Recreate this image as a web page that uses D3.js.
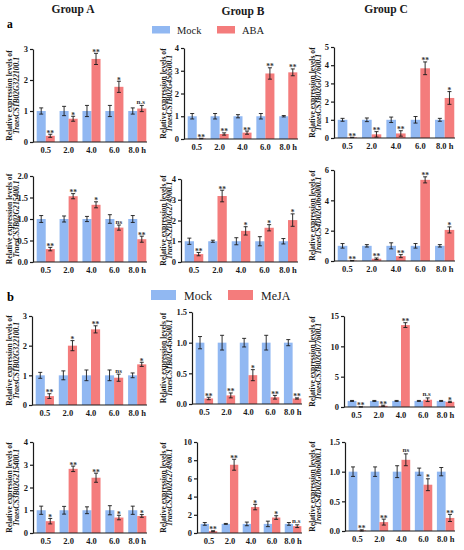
<!DOCTYPE html>
<html><head><meta charset="utf-8">
<script src="https://cdn.jsdelivr.net/npm/d3@7/dist/d3.min.js"></script>
<style>body{margin:0;background:#fff}svg{display:block;font-family:"Liberation Serif","Times New Roman",serif}</style>
</head><body>
<svg id="c" width="464" height="550"></svg>
<script>
// ---------------- data ----------------
const categories = ["0.5", "2.0", "4.0", "6.0", "8.0 h"];
const groupTitles = ["Group A", "Group B", "Group C"];
const treatments = ["ABA", "MeJA"];
const genes = [
  "TraesCS1B02G322100.1", "TraesCS1B02G456500.1", "TraesCS3B02G077600.1",
  "TraesCS3B02G215400.1", "TraesCS2D02G274900.1", "TraesCS4D02G066000.1",
  "TraesCS1B02G322100.1", "TraesCS1B02G456500.1", "TraesCS3B02G077600.1",
  "TraesCS3B02G215400.1", "TraesCS2D02G274900.1", "TraesCS4D02G066000.1"
];
const yMax = [3, 4, 5, 2, 4, 6, 3, 1.5, 15, 4, 10, 1.5];
const yTicks = [
  [0, 1, 2, 3], [0, 1, 2, 3, 4], [0, 1, 2, 3, 4, 5],
  [0, 0.5, 1, 1.5, 2], [0, 1, 2, 3, 4], [0, 2, 4, 6],
  [0, 1, 2, 3], [0, 0.5, 1, 1.5], [0, 5, 10, 15],
  [0, 1, 2, 3, 4], [0, 2, 4, 6, 8, 10], [0, 0.5, 1, 1.5]
];
const mockMeans = [
  [1, 1, 1, 1, 1], [1, 1, 1, 1, 1], [1, 1, 1, 1, 1],
  [1, 1, 1, 1, 1], [1, 1, 1, 1, 1], [1, 1, 1, 1, 1],
  [1, 1, 1, 1, 1], [1, 1, 1, 1, 1], [1, 1, 1, 1, 1],
  [1, 1, 1, 1, 1], [1, 1, 1, 1, 1], [1, 1, 1, 1, 1]
];
const mockErrors = [
  [0.1, 0.15, 0.18, 0.18, 0.1], [0.12, 0.12, 0.07, 0.12, 0.03], [0.08, 0.1, 0.15, 0.18, 0.08],
  [0.08, 0.07, 0.06, 0.1, 0.08], [0.15, 0.05, 0.17, 0.22, 0.13], [0.15, 0.08, 0.2, 0.15, 0.08],
  [0.1, 0.15, 0.18, 0.18, 0.08], [0.1, 0.12, 0.07, 0.12, 0.05], [0.08, 0.08, 0.08, 0.08, 0.08],
  [0.18, 0.17, 0.15, 0.2, 0.18], [0.15, 0.05, 0.2, 0.3, 0.15], [0.08, 0.08, 0.1, 0.06, 0.07]
];
const treatMeans = [
  [0.2, 0.75, 2.68, 1.78, 1.08], [0.02, 0.22, 0.28, 2.88, 2.93], [0.03, 0.2, 0.25, 3.83, 2.2],
  [0.3, 1.53, 1.33, 0.8, 0.53], [0.38, 3.18, 1.5, 1.65, 2.02], [0.02, 0.15, 0.32, 5.35, 2.05],
  [0.3, 2.0, 2.55, 0.92, 1.37], [0.09, 0.14, 0.47, 0.11, 0.09], [0.02, 0.2, 13.5, 1.2, 0.85],
  [0.52, 2.82, 2.43, 0.68, 0.75], [0.2, 7.5, 2.85, 1.7, 0.75], [0.01, 0.15, 1.2, 0.78, 0.22]
];
const treatErrors = [
  [0.05, 0.08, 0.18, 0.18, 0.1], [0.01, 0.05, 0.07, 0.25, 0.15], [0.01, 0.15, 0.15, 0.35, 0.35],
  [0.04, 0.06, 0.07, 0.06, 0.07], [0.08, 0.28, 0.2, 0.15, 0.3], [0.01, 0.05, 0.1, 0.2, 0.2],
  [0.08, 0.17, 0.12, 0.12, 0.07], [0.02, 0.04, 0.09, 0.03, 0.01], [0.01, 0.1, 0.4, 0.3, 0.1],
  [0.12, 0.12, 0.2, 0.1, 0.06], [0.05, 0.6, 0.3, 0.2, 0.15], [0.01, 0.05, 0.1, 0.1, 0.06]
];
const significance = [
  ["**", "*", "**", "*", "n.s"], ["**", "**", "**", "**", "**"], ["**", "**", "**", "**", "*"],
  ["**", "**", "*", "ns", "**"], ["**", "**", "*", "*", "*"], ["**", "**", "**", "**", "*"],
  ["**", "*", "**", "ns", "*"], ["**", "**", "*", "**", "**"], ["**", "**", "**", "n.s", "*"],
  ["*", "**", "**", "*", "*"], ["**", "**", "*", "*", "n.s"], ["**", "**", "ns", "*", "**"]
];

// ---------------- layout ----------------
const BLUE = "#91b8f2", RED = "#f47c7c", INK = "#1a1a1a";
const FONT = '"Liberation Serif","Times New Roman",serif';
// [axisX, rightX, topY, bottomY]
const BOX = [
  [33, 147, 49, 142], [184, 298, 48, 139], [334, 455, 47, 138],
  [33, 147, 176, 262], [181, 298, 179, 262], [334, 455, 170, 261],
  [32, 147, 316, 405], [192, 302, 312, 404], [344, 455, 316, 407],
  [33, 147, 442, 533], [197, 302, 442, 533], [345, 455, 442, 531]
];
const LABEL_X = [[12, 19], [166, 172], [315, 321]];

const svg = d3.select("#c");

// headers
const headerX = [73, 243, 386], headerY = [13, 15, 13];
groupTitles.forEach((t, i) => {
  svg.append("text").attr("x", headerX[i]).attr("y", headerY[i]).attr("text-anchor", "middle")
    .attr("font-weight", "bold").attr("font-size", 11.5).attr("fill", INK).text(t);
});
svg.append("text").attr("x", 7).attr("y", 28).attr("font-weight", "bold").attr("font-size", 11.5).text("a");
svg.append("text").attr("x", 7).attr("y", 301).attr("font-weight", "bold").attr("font-size", 12.5).text("b");

// legends
function legend(x, y, w, h, fs, gapText, redX, label) {
  svg.append("rect").attr("x", x).attr("y", y).attr("width", w).attr("height", h).attr("fill", BLUE);
  svg.append("text").attr("x", x + w + gapText).attr("y", y + h).attr("font-size", fs).attr("fill", INK).text("Mock");
  svg.append("rect").attr("x", redX).attr("y", y).attr("width", w).attr("height", h).attr("fill", RED);
  svg.append("text").attr("x", redX + w + gapText).attr("y", y + h).attr("font-size", fs).attr("fill", INK).text(label);
}
legend(152, 26, 18, 7.5, 10.5, 7, 217, treatments[0]);
legend(151, 290, 25, 10, 12, 8, 228, treatments[1]);

// panels
genes.forEach((gene, i) => {
  const [ax, rx, ty, by] = BOX[i];
  const col = i % 3;
  const treat = treatments[i < 6 ? 0 : 1];
  const g = svg.append("g");
  const y = d3.scaleLinear().domain([0, yMax[i]]).range([by, ty]);
  const xb = d3.scaleBand().domain(categories).range([ax + 3, rx]).paddingInner(0.21).paddingOuter(0.03);
  const xs = d3.scaleBand().domain(["Mock", treat]).range([0, xb.bandwidth()]);

  const rows = categories.map((c, k) => ([
    { c, s: "Mock", m: mockMeans[i][k], e: mockErrors[i][k], sig: null },
    { c, s: treat, m: treatMeans[i][k], e: treatErrors[i][k], sig: significance[i][k] }
  ])).flat();

  g.selectAll("rect.bar").data(rows).join("rect").attr("class", "bar")
    .attr("x", d => xb(d.c) + xs(d.s)).attr("width", xs.bandwidth())
    .attr("y", d => y(d.m)).attr("height", d => y(0) - y(d.m))
    .attr("fill", d => d.s === "Mock" ? BLUE : RED);

  // error bars
  const eb = g.selectAll("g.eb").data(rows).join("g").attr("class", "eb")
    .attr("stroke", INK).attr("stroke-width", 0.9);
  const cx = d => xb(d.c) + xs(d.s) + xs.bandwidth() / 2;
  eb.append("line").attr("x1", cx).attr("x2", cx)
    .attr("y1", d => y(Math.max(0, d.m - d.e))).attr("y2", d => y(d.m + d.e));
  eb.append("line").attr("x1", d => cx(d) - 2).attr("x2", d => cx(d) + 2)
    .attr("y1", d => y(d.m + d.e)).attr("y2", d => y(d.m + d.e));
  eb.append("line").attr("x1", d => cx(d) - 2).attr("x2", d => cx(d) + 2)
    .attr("y1", d => y(Math.max(0, d.m - d.e))).attr("y2", d => y(Math.max(0, d.m - d.e)));

  // significance
  g.selectAll("text.sig").data(rows.filter(d => d.sig)).join("text").attr("class", "sig")
    .attr("x", d => cx(d) - (d.sig.length > 2 ? 1 : 0)).attr("y", d => y(d.m + d.e) - (d.sig.indexOf("*") >= 0 ? -1.5 : 1.5))
    .attr("text-anchor", "middle").attr("font-weight", "bold")
    .attr("font-size", d => d.sig.indexOf("*") >= 0 ? 7.5 : 7).attr("fill", "#333").text(d => d.sig);

  // y axis
  const dec = yTicks[i].some(v => v % 1 !== 0);
  const yAxis = d3.axisLeft(y).tickValues(yTicks[i]).tickSize(3).tickSizeOuter(0).tickPadding(2)
    .tickFormat(dec ? d3.format(".1f") : d3.format("d"));
  const ga = svg.append("g").attr("transform", `translate(${ax},0)`).call(yAxis);
  ga.selectAll("path,line").attr("stroke", INK).attr("stroke-width", 1.2);
  ga.selectAll("text").attr("font-family", FONT).attr("font-weight", "bold").attr("font-size", 8.5).attr("fill", INK);

  // x axis
  svg.append("line").attr("x1", ax).attr("x2", rx).attr("y1", by).attr("y2", by)
    .attr("stroke", INK).attr("stroke-width", 1.2);
  const xAxis = d3.axisBottom(xb).tickSize(0).tickPadding(5);
  const gx = svg.append("g").attr("transform", `translate(0,${by})`).call(xAxis);
  gx.select(".domain").remove();
  gx.selectAll("text").attr("font-family", FONT).attr("font-weight", "bold").attr("font-size", 8.5).attr("fill", INK);

  // y label
  const midY = (ty + by) / 2;
  const lab = svg.append("g").attr("font-weight", "bold").attr("font-size", 7.6).attr("fill", INK).attr("text-anchor", "middle");
  lab.append("text").attr("transform", `translate(${LABEL_X[col][0]},${midY}) rotate(-90)`).text("Relative expression levels of");
  lab.append("text").attr("transform", `translate(${LABEL_X[col][1]},${midY}) rotate(-90)`).attr("font-style", "italic").text(gene);
});
</script>
</body></html>
